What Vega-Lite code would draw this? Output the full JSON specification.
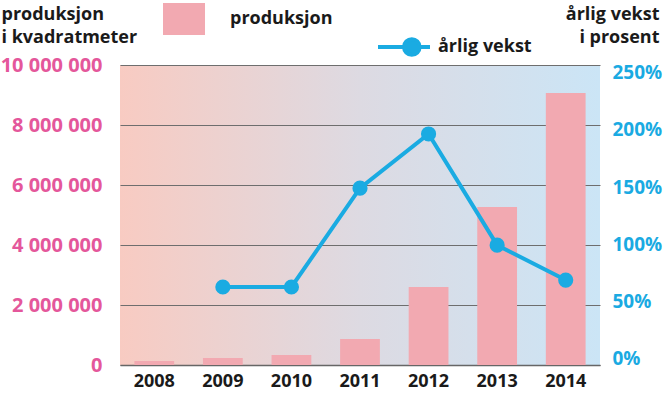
{
  "$schema": "https://vega.github.io/schema/vega-lite/v6.json",
  "width": 480,
  "height": 300,
  "autosize": "none",
  "padding": {"left": 120, "top": 65, "right": 64, "bottom": 29},
  "view": {
    "stroke": null,
    "fill": {
      "gradient": "linear", "x1": 0, "y1": 0, "x2": 1, "y2": 0,
      "stops": [
        {"offset": 0, "color": "#f8cbc2"},
        {"offset": 0.5, "color": "#dddae2"},
        {"offset": 1, "color": "#cbe5f6"}
      ]
    }
  },
  "config": {
    "font": "Open Sans",
    "axis": {"labelFont": "Open Sans", "labelFontWeight": "bold", "titleFont": "Open Sans", "titleFontWeight": "bold"},
    "legend": {"labelFont": "Open Sans", "labelFontWeight": "bold"}
  },
  "data": {
    "values": [
      {"year": "2008", "prod": 130000, "vekst": null},
      {"year": "2009", "prod": 230000, "vekst": 62.3},
      {"year": "2010", "prod": 330000, "vekst": 62.3},
      {"year": "2011", "prod": 870000, "vekst": 149},
      {"year": "2012", "prod": 2600000, "vekst": 196.5},
      {"year": "2013", "prod": 5270000, "vekst": 99},
      {"year": "2014", "prod": 9070000, "vekst": 68.4}
    ]
  },
  "encoding": {
    "x": {
      "field": "year", "type": "ordinal",
      "scale": {"paddingInner": 0.42, "paddingOuter": 0.21},
      "axis": {
        "title": null, "labelAngle": 0, "ticks": false,
        "domainColor": "#666666", "domainWidth": 1.5,
        "labelFontSize": 18, "labelColor": "#1a1a1a", "labelPadding": 7
      }
    }
  },
  "layer": [
    {
      "mark": {"type": "bar"},
      "encoding": {
        "y": {
          "field": "prod", "type": "quantitative",
          "scale": {"domain": [0, 10000000], "nice": false},
          "axis": {
            "values": [0, 2000000, 4000000, 6000000, 8000000, 10000000],
            "labelExpr": "replace(format(datum.value, ','), regexp(',', 'g'), ' ')",
            "domain": false, "ticks": false,
            "grid": true, "gridColor": "#6e6e6e", "gridWidth": 1.2,
            "labelFontSize": 20, "labelColor": "#e4579b", "labelPadding": 18,
            "title": ["produksjon", "i kvadratmeter"],
            "titleAngle": 0, "titleAlign": "left", "titleBaseline": "top",
            "titleX": -119, "titleY": -60, "titleFontSize": 18,
            "titleColor": "#1a1a1a", "titleLineHeight": 23
          }
        },
        "fill": {
          "datum": "produksjon",
          "scale": {"range": ["#f2a9b1"]},
          "legend": {
            "orient": "none", "legendX": 43, "legendY": -67, "padding": 0,
            "title": null,
            "symbolType": "M-1,-0.76H1V0.76H-1Z", "symbolSize": 1764,
            "symbolStrokeWidth": 0, "symbolOpacity": 1,
            "labelFontSize": 18, "labelColor": "#1a1a1a", "labelOffset": 25
          }
        }
      }
    },
    {
      "mark": {"type": "line", "strokeWidth": 4, "point": {"size": 230, "filled": true, "opacity": 1}},
      "encoding": {
        "y": {
          "field": "vekst", "type": "quantitative",
          "scale": {"domain": [-6.1, 257], "nice": false, "zero": false},
          "axis": {
            "orient": "right",
            "values": [0, 50, 100, 150, 200, 250],
            "labelExpr": "datum.value + '%'",
            "domain": false, "ticks": false, "grid": false,
            "labelFontSize": 19, "labelColor": "#1aaae2", "labelPadding": 12,
            "title": ["årlig vekst", "i prosent"],
            "titleAngle": 0, "titleAlign": "right", "titleBaseline": "top",
            "titleX": 59, "titleY": -60, "titleFontSize": 18,
            "titleColor": "#1a1a1a", "titleLineHeight": 23
          }
        },
        "color": {
          "datum": "årlig vekst",
          "scale": {"range": ["#1aabe2"]},
          "legend": {
            "orient": "none", "legendX": 256, "legendY": -46, "padding": 0,
            "title": null,
            "symbolType": "M-1,0H1M0.0,0A0.3,0.3 0 1 1 0.6,0A0.3,0.3 0 1 1 0.0,0Z",
            "symbolSize": 2704, "symbolStrokeWidth": 4,
            "symbolFillColor": "#1aabe2", "symbolStrokeColor": "#1aabe2",
            "labelFontSize": 18, "labelColor": "#1a1a1a", "labelOffset": 6
          }
        }
      }
    }
  ],
  "resolve": {"scale": {"y": "independent", "fill": "independent", "color": "independent"}}
}
